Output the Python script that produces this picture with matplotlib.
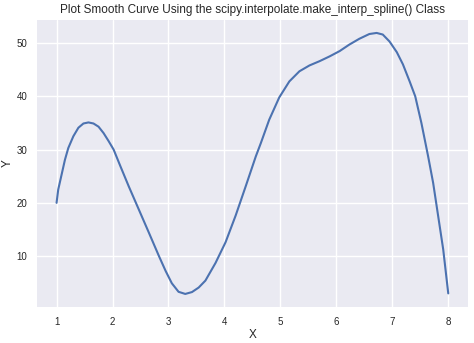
import matplotlib
matplotlib.use("Agg")
import matplotlib.pyplot as plt

# points
x_vals = [1.00, 1.03, 1.09, 1.15, 1.21, 1.30, 1.39, 1.48, 1.57, 1.66, 1.75, 1.84,
          1.93, 2.02, 2.14, 2.29, 2.47, 2.65, 2.83, 2.95, 3.06, 3.18, 3.30, 3.42,
          3.54, 3.66, 3.84, 4.02, 4.20, 4.38, 4.56, 4.65, 4.80, 4.98, 5.16, 5.34,
          5.52, 5.70, 5.88, 6.06, 6.23, 6.41, 6.59, 6.72, 6.83, 6.95, 7.08, 7.19,
          7.31, 7.41, 7.52, 7.64, 7.73, 7.82, 7.91, 8.00]
y_vals = [20.0, 22.5, 25.3, 28.1, 30.3, 32.5, 34.1, 34.9, 35.1, 34.9, 34.3, 33.1,
          31.6, 30.0, 26.9, 23.1, 18.75, 14.4, 10.0, 7.2, 4.9, 3.3, 2.9, 3.25,
          4.1, 5.4, 8.7, 12.6, 17.6, 23.1, 28.7, 31.2, 35.6, 39.8, 42.8, 44.7,
          45.8, 46.6, 47.5, 48.5, 49.7, 50.8, 51.7, 51.9, 51.6, 50.3, 48.3, 46.0,
          42.8, 40.0, 35.0, 28.75, 23.75, 17.5, 11.25, 3.0]

plt.style.use("seaborn-v0_8")
plt.rcParams["font.family"] = ["Liberation Sans", "DejaVu Sans"]

fig, ax = plt.subplots(figsize=(4.74, 3.43), dpi=100)
fig.subplots_adjust(left=0.078, right=0.987, top=0.942, bottom=0.105)

ax.plot(x_vals, y_vals, color="#4C72B0", linewidth=1.5)

ax.set_title("Plot Smooth Curve Using the scipy.interpolate.make_interp_spline() Class",
             fontsize=8.5, pad=5)
ax.set_xlabel("X", fontsize=8.5, labelpad=2)
ax.set_ylabel("Y", fontsize=8.5, labelpad=2)
ax.tick_params(labelsize=7)

fig.savefig("out.png", dpi=100)
